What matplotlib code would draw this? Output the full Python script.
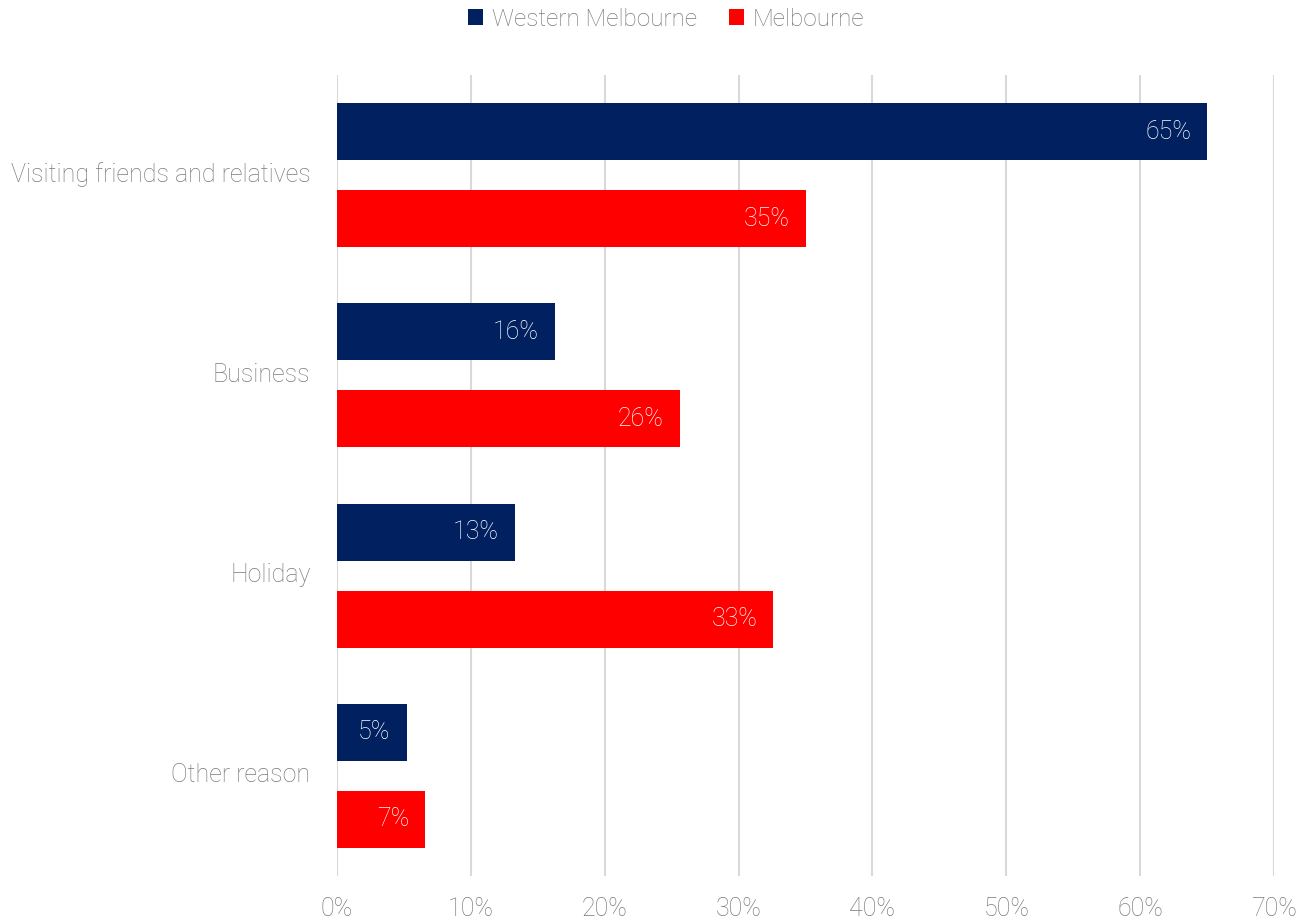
import matplotlib
matplotlib.use("Agg")
import matplotlib.pyplot as plt
import matplotlib.transforms as mtransforms
from matplotlib.patches import Patch
from matplotlib.ticker import PercentFormatter, MultipleLocator

categories = ["Visiting friends and relatives", "Business", "Holiday", "Other reason"]
western_melbourne = [0.650, 0.163, 0.133, 0.052]
melbourne = [0.350, 0.256, 0.326, 0.066]
series_names = ["Western Melbourne", "Melbourne"]

NAVY = "#002060"
RED = "#FF0000"
GREY = "#7a7a7a"
GRID = "#d9d9d9"
FONT = "Roboto"
FS = 18

plt.rcParams["font.family"] = [FONT, "DejaVu Sans"]

W, H = 1299, 923
fig = plt.figure(figsize=(W / 100, H / 100), dpi=100)
ax = fig.add_axes([337 / W, (H - 876) / H, (1274 - 337) / W, (876 - 75) / H])

y = list(range(len(categories)))
bar_h = 0.285
off = 0.2175
bars1 = ax.barh([v - off for v in y], western_melbourne, height=bar_h, color=NAVY, zorder=3)
bars2 = ax.barh([v + off for v in y], melbourne, height=bar_h, color=RED, zorder=3)

for bars, vals in ((bars1, western_melbourne), (bars2, melbourne)):
    for b, v in zip(bars, vals):
        ax.annotate(f"{v:.0%}", xy=(v, b.get_y() + b.get_height() / 2),
                    xytext=(-16, 0), textcoords="offset pixels",
                    ha="right", va="center", color="white",
                    fontsize=FS, fontweight="light", zorder=4)

ax.set_xlim(0, 0.70)
ax.set_ylim(len(categories) - 0.5, -0.5)
ax.xaxis.set_major_locator(MultipleLocator(0.10))
ax.xaxis.set_major_formatter(PercentFormatter(1.0, decimals=0))
ax.set_yticks(y)
ax.set_yticklabels(categories)

ax.grid(axis="x", color=GRID, linewidth=1.5, zorder=0)
ax.set_axisbelow(True)
for s in ax.spines.values():
    s.set_visible(False)
ax.tick_params(axis="both", length=0, colors=GREY, labelsize=FS)
ax.tick_params(axis="x", pad=15)
ax.tick_params(axis="y", pad=19)
for lbl in ax.get_xticklabels() + ax.get_yticklabels():
    lbl.set_fontweight("light")

# nudge category labels up slightly
shift = mtransforms.ScaledTranslation(0, 3 / 100, fig.dpi_scale_trans)
for lbl in ax.get_yticklabels():
    lbl.set_transform(lbl.get_transform() + shift)

handles = [Patch(facecolor=NAVY), Patch(facecolor=RED)]
leg = fig.legend(handles, series_names, loc="center",
                 bbox_to_anchor=(666 / W, 1 - 19 / H), ncol=2, frameon=False,
                 handlelength=0.65, handleheight=0.65, handletextpad=0.35,
                 columnspacing=1.3, borderpad=0.0,
                 prop={"family": FONT, "size": 17.5, "weight": "light"})
for t in leg.get_texts():
    t.set_color(GREY)

fig.savefig("out.png", dpi=100)
